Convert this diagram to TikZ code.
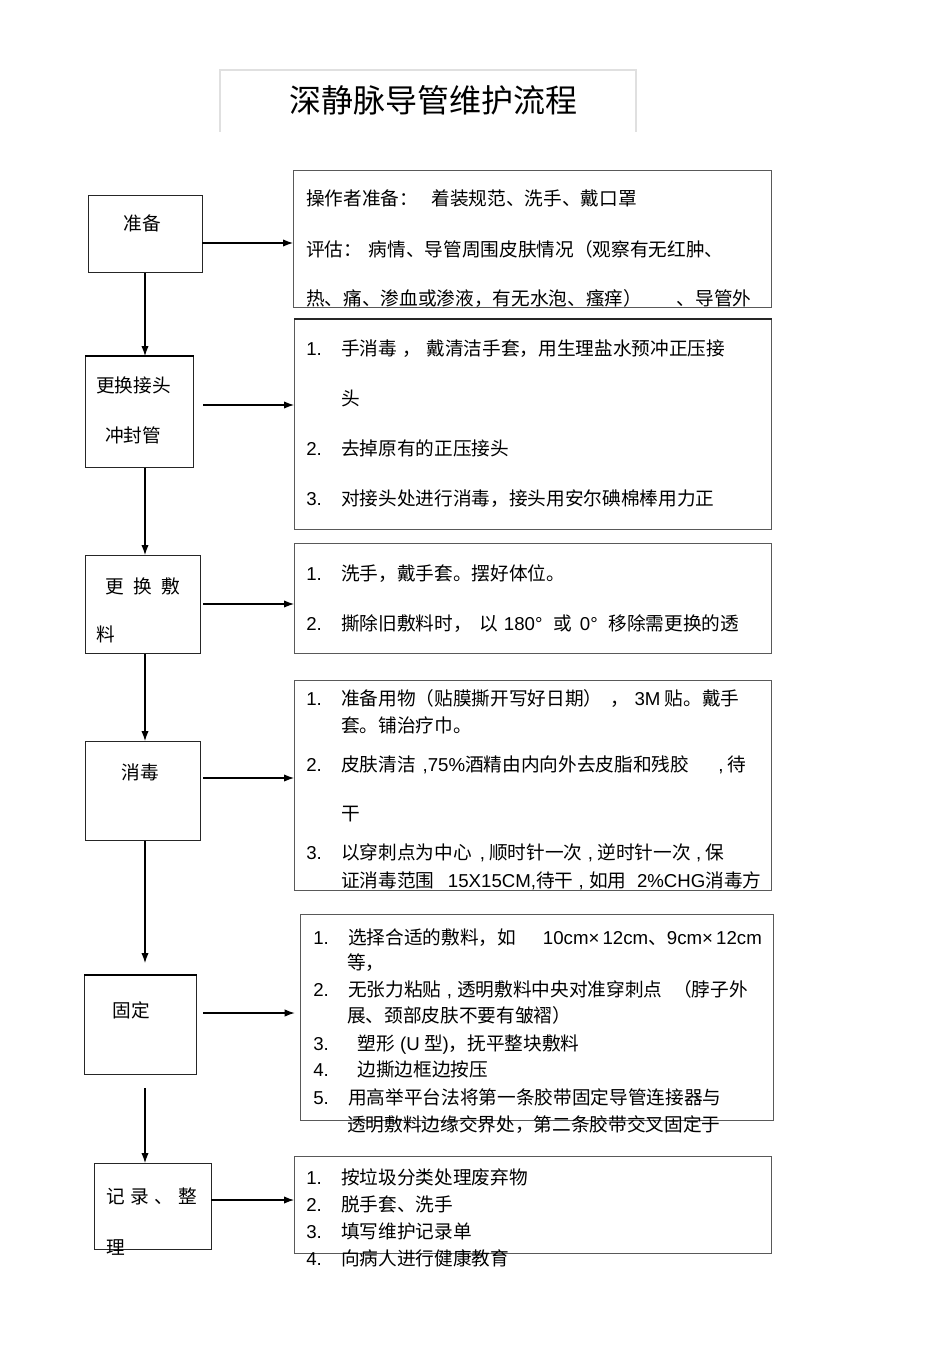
\documentclass[tikz,border=0pt]{standalone}
\usepackage{fontspec}
\setmainfont{Noto Sans CJK SC}
\newfontfamily\lat{Liberation Sans}
\usetikzlibrary{arrows.meta}

\tikzset{
  px/.style 2 args={minimum width=#1*0.75pt, minimum height=#2*0.75pt},
  stepbox/.style={draw=black!85, line width=0.8pt, inner sep=0pt, anchor=north west},
  listbox/.style={draw=black!65, line width=0.9pt, inner sep=0pt, anchor=north west},
  txt/.style={anchor=base west, inner sep=0pt, yshift=-5.4pt, font=\fontsize{14}{17}\selectfont},
  mid/.style={anchor=base, inner sep=0pt, yshift=-5.4pt, font=\fontsize{14}{17}\selectfont},
  flow/.style={-{Latex[length=7.5pt,width=5.5pt]}, line width=0.8pt},
}
\newcommand\itm[1]{\makebox[26.25pt][l]{\lat #1}}

\begin{document}
\begin{tikzpicture}[x=0.75pt, y=-0.75pt]
\useasboundingbox (0,0) rectangle (950,1345);

% title
\draw[black!12, line width=0.8pt] (220,132) |- (636,70) -- (636,132);
\node[anchor=base, inner sep=0pt, yshift=-9pt, font=\fontsize{24}{28}\selectfont] (ttl) at (433,101) {深静脉导管维护流程};

% steps
\node[stepbox, px={114}{77}]  (zb)  at (88,195)  {};
\node[stepbox, px={108}{111}] (gh)  at (85,356)  {};
\node[stepbox, px={115}{98}]  (gf)  at (85,555)  {};
\node[stepbox, px={115}{99}]  (xd)  at (85,741)  {};
\node[stepbox, px={112}{99}]  (gd)  at (84,975)  {};
\node[stepbox, px={117}{86}]  (jl)  at (94,1163) {};
\draw[line width=1.6pt] (gh.north west) -- (gh.north east);
\draw[line width=1.6pt] (gd.north west) -- (gd.north east);

\node[mid] (zbt)  at (142,223) {准备};
\node[txt] (ght1) at (96,385)  {更换接头};
\node[txt] (ght2) at (105,435) {冲封管};
\node[txt] (gft1) at (105,586) {更\hspace{7pt}换\hspace{7pt}敷};
\node[txt] (gft2) at (96,634)  {料};
\node[mid] (xdt)  at (140,772) {消毒};
\node[mid] (gdt)  at (131,1010) {固定};
\node[txt] (jlt1) at (106,1196) {记\hspace{4pt}录\hspace{4pt}、\hspace{4pt}整};
\node[txt] (jlt2) at (106,1247) {理};

% details
\node[listbox, px={478}{137}] (r1) at (293,170)  {};
\node[listbox, px={477}{210}] (r2) at (294,319)  {};
\node[listbox, px={477}{110}] (r3) at (294,543)  {};
\node[listbox, px={477}{210}] (r4) at (294,680)  {};
\node[listbox, px={473}{206}] (r5) at (300,914)  {};
\node[listbox, px={477}{97}]  (r6) at (294,1156) {};
\draw[black!85, line width=1.6pt] (r2.north west) -- (r2.north east);

\node[txt] (r1a) at (306,198) {操作者准备：\hspace{10pt}着装规范、洗手、戴口罩};
\node[txt] (r1b) at (306,249) {评估：\hspace{5pt}病情、导管周围皮肤情况（观察有无红肿、};
\node[txt] (r1c) at (306,298) {热、痛、渗血或渗液，有无水泡、瘙痒）\hspace{26pt}、导管外};

\node[txt] (r2a) at (306,348) {\itm{1.}手消毒{\lat \ }，\hspace{4pt}戴清洁手套，用生理盐水预冲正压接};
\node[txt] (r2b) at (341,398) {头};
\node[txt] (r2c) at (306,448) {\itm{2.}去掉原有的正压接头};
\node[txt] (r2d) at (306,498) {\itm{3.}对接头处进行消毒，接头用安尔碘棉棒用力正};

\node[txt] (r3a) at (306,573) {\itm{1.}洗手，戴手套。摆好体位。};
\node[txt] (r3b) at (306,623) {\itm{2.}撕除旧敷料时，\hspace{6pt}以\hspace{4pt}{\lat 180°}\hspace{8pt}或\hspace{6pt}{\lat 0°}\hspace{8pt}移除需更换的透};

\node[txt] (r4a) at (306,698) {\itm{1.}准备用物（贴膜撕开写好日期）\hspace{6pt}，\hspace{4pt}{\lat 3M} 贴。戴手};
\node[txt] (r4b) at (341,725) {套。铺治疗巾。};
\node[txt] (r4c) at (306,764) {\itm{2.}皮肤清洁\hspace{5pt}{\lat ,75\%}酒精由内向外去皮脂和残胶\hspace{22pt}{\lat ,} 待};
\node[txt] (r4d) at (341,813) {干};
\node[txt] (r4e) at (306,852) {\itm{3.}以穿刺点为中心\hspace{6pt}{\lat ,} 顺时针一次\hspace{4pt}{\lat ,} 逆时针一次\hspace{4pt}{\lat ,} 保};
\node[txt] (r4f) at (341,880) {证消毒范围\hspace{10pt}{\lat 15X15CM,}待干{\lat \ , }如用\hspace{8pt}{\lat 2\%CHG}消毒方};

\node[txt] (r5a) at (313,937)  {\itm{1.}选择合适的敷料，如\hspace{20pt}{\lat 10cm×\,12cm}、{\lat 9cm×\,12cm}};
\node[txt] (r5b) at (347,962)  {等，};
\node[txt] (r5c) at (313,989)  {\itm{2.}无张力粘贴{\lat \ , }透明敷料中央对准穿刺点\hspace{8pt}（脖子外};
\node[txt] (r5d) at (347,1015) {展、颈部皮肤不要有皱褶）};
\node[txt] (r5e) at (313,1043) {\itm{3.}\hspace{7pt}塑形{\lat \ (U} 型{\lat )}，抚平整块敷料};
\node[txt] (r5f) at (313,1069) {\itm{4.}\hspace{7pt}边撕边框边按压};
\node[txt] (r5g) at (313,1097) {\itm{5.}用高举平台法将第一条胶带固定导管连接器与};
\node[txt] (r5h) at (347,1124) {透明敷料边缘交界处，第二条胶带交叉固定于};

\node[txt] (r6a) at (306,1177) {\itm{1.}按垃圾分类处理废弃物};
\node[txt] (r6b) at (306,1204) {\itm{2.}脱手套、洗手};
\node[txt] (r6c) at (306,1231) {\itm{3.}填写维护记录单};
\node[txt] (r6d) at (306,1258) {\itm{4.}向病人进行健康教育};

% arrows
\coordinate (sp) at (145,0);
\coordinate (h1) at (202,243);
\coordinate (h2) at (203,405);
\coordinate (h3) at (203,604);
\coordinate (h4) at (203,778);
\coordinate (h5) at (203,1013);
\coordinate (h6) at (211,1200);
\draw[flow] (h1) -- (h1 -| r1.west);
\draw[flow] (h2) -- (h2 -| r2.west);
\draw[flow] (h3) -- (h3 -| r3.west);
\draw[flow] (h4) -- (h4 -| r4.west);
\draw[flow] (h5) -- ([xshift=-4pt]h5 -| r5.west);
\draw[flow] (h6) -- (h6 -| r6.west);

\coordinate (v4) at (145,963);
\coordinate (v5) at (145,1088);
\draw[flow] (zb.south -| sp) -- (gh.north -| sp);
\draw[flow] (gh.south -| sp) -- (gf.north -| sp);
\draw[flow] (gf.south -| sp) -- (xd.north -| sp);
\draw[flow] (xd.south -| sp) -- (v4);
\draw[flow] (v5) -- (jl.north -| sp);
\end{tikzpicture}
\end{document}
